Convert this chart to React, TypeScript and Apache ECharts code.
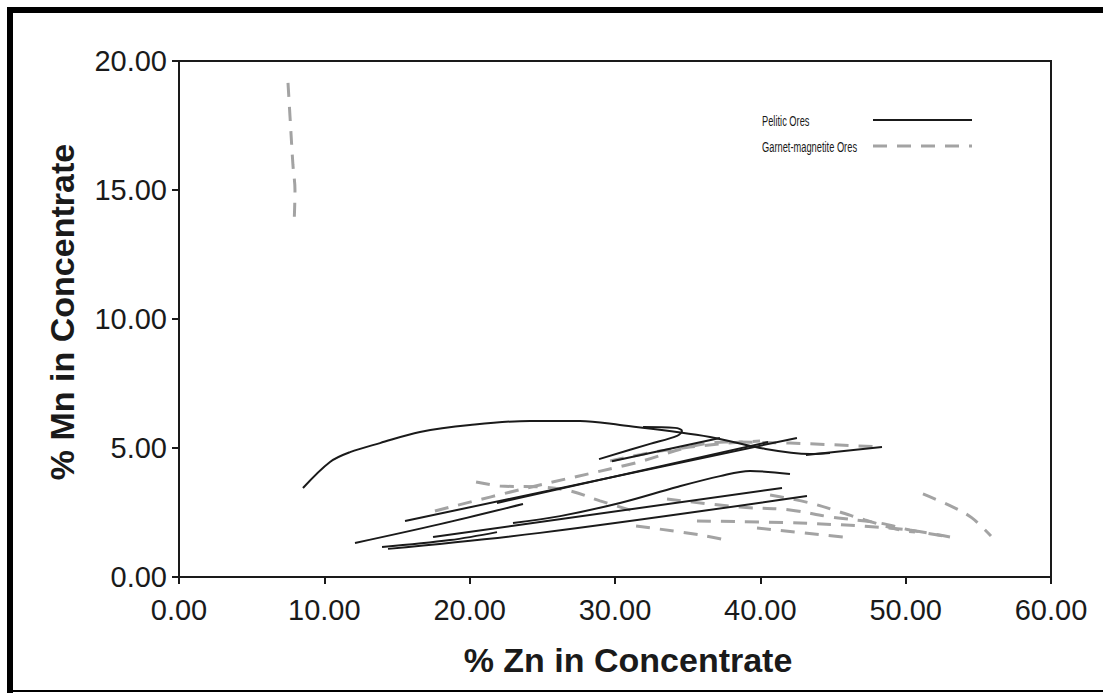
import React, { useEffect, useRef } from "react";
import * as echarts from "echarts";

// Axis ranges and ticks
const X_MIN = 0;
const X_MAX = 60;
const X_STEP = 10;
const Y_MIN = 0;
const Y_MAX = 20;
const Y_STEP = 5;

const X_TITLE = "% Zn in Concentrate";
const Y_TITLE = "% Mn in Concentrate";
const LEGEND_PELITIC = "Pelitic Ores";
const LEGEND_GARNET = "Garnet-magnetite Ores";

type Pt = [number, number];

// Pelitic ore grade curves (% Zn, % Mn)
const pelArc: Pt[] = [
  [8.53, 3.45], [10.39, 4.46], [11.77, 4.84], [13.83, 5.19], [16.58, 5.62],
  [20.02, 5.89], [24.15, 6.05], [27.59, 6.05], [30.34, 5.89], [36.54, 5.43],
  [39.98, 5.0], [43.42, 4.77], [44.79, 4.81],
];
const pelTail: Pt[] = [[43.14, 4.73], [48.37, 5.04]];
const pelHook: Pt[] = [
  [28.9, 4.57], [32.41, 5.16], [34.27, 5.47], [34.61, 5.66], [34.13, 5.78], [31.93, 5.81],
];
const pelUpperShort: Pt[] = [[29.79, 4.49], [37.22, 5.39]];
const pelLongA: Pt[] = [[15.55, 2.17], [42.52, 5.39]];
const pelLongB: Pt[] = [[21.88, 2.87], [40.53, 5.23]];
const pelMidShort: Pt[] = [[12.11, 1.32], [17.96, 2.05], [23.67, 2.83]];
const pelLowA: Pt[] = [[14.38, 1.09], [24.84, 1.71], [43.21, 3.14]];
const pelLowStub: Pt[] = [[13.97, 1.16], [18.65, 1.43], [21.88, 1.74]];
const pelLowB: Pt[] = [[17.48, 1.55], [41.49, 3.45]];
const pelWave: Pt[] = [
  [22.98, 2.09], [26.22, 2.36], [30.34, 2.87], [34.27, 3.49], [37.23, 3.91],
  [39.29, 4.11], [42.04, 3.99],
];

// Garnet-magnetite ore grade curves (% Zn, % Mn)
const garVertical: Pt[] = [[7.5, 19.15], [7.64, 17.83], [7.84, 15.97], [7.98, 15.0], [7.91, 13.57]];
const garRise: Pt[] = [
  [17.61, 2.56], [23.95, 3.45], [30.83, 4.34], [37.57, 5.23], [42.04, 5.19], [48.23, 5.04],
];
const garRiseB: Pt[] = [[29.66, 4.5], [33.1, 4.88], [37.23, 5.16], [39.98, 5.27]];
const garDip: Pt[] = [
  [20.44, 3.68], [22.09, 3.53], [24.84, 3.49], [26.9, 3.34], [28.97, 2.95], [31.72, 2.48],
];
const garFallA: Pt[] = [
  [33.58, 3.02], [38.6, 2.71], [42.04, 2.6], [44.79, 2.33], [48.23, 2.09], [50.3, 1.82], [53.05, 1.55],
];
const garLow: Pt[] = [[31.45, 1.98], [35.85, 1.63], [37.91, 1.4]];
const garFlat: Pt[] = [[35.64, 2.17], [42.73, 2.09], [49.61, 1.86], [53.05, 1.55]];
const garShort: Pt[] = [[39.77, 1.9], [45.69, 1.55]];
const garFallB: Pt[] = [
  [40.67, 3.18], [43.42, 2.87], [45.48, 2.52], [47.2, 2.21], [49.61, 1.82], [50.64, 1.74],
];
const garRight: Pt[] = [[51.19, 3.22], [53.26, 2.71], [54.56, 2.29], [55.87, 1.59]];

const pelitic: Pt[][] = [
  pelArc, pelTail, pelHook, pelUpperShort, pelLongA, pelLongB, pelMidShort,
  pelLowA, pelLowStub, pelLowB, pelWave,
];
const garnet: Pt[][] = [
  garVertical, garRise, garRiseB, garDip, garFallA, garLow, garFlat, garShort, garFallB, garRight,
];

const FONT = "'Liberation Sans', Arial, Helvetica, sans-serif";
const INK = "#1a1a1a";
const GREY = "#a3a3a3";
const DASH = [14, 10];

export default function App() {
  const ref = useRef<HTMLDivElement>(null);

  useEffect(() => {
    document.body.style.margin = "0";
    if (!ref.current) return;
    const chart = echarts.init(ref.current, undefined, { renderer: "svg" });

    const series: any[] = [];
    garnet.forEach((pts, i) => {
      series.push({
        name: LEGEND_GARNET,
        id: "g" + i,
        type: "line",
        data: pts,
        showSymbol: false,
        smooth: 0.35,
        lineStyle: { color: GREY, width: 3, type: DASH },
        z: 2,
      });
    });
    pelitic.forEach((pts, i) => {
      series.push({
        name: LEGEND_PELITIC,
        id: "p" + i,
        type: "line",
        data: pts,
        showSymbol: false,
        smooth: 0.35,
        lineStyle: { color: INK, width: 2 },
        z: 3,
      });
    });

    const fmt = (v: number) => v.toFixed(2);

    chart.setOption({
      animation: false,
      backgroundColor: "#ffffff",
      grid: {
        left: 179,
        top: 61,
        right: 52,
        bottom: 116,
        show: true,
        borderColor: INK,
        borderWidth: 2,
        backgroundColor: "transparent",
      },
      xAxis: {
        type: "value",
        min: X_MIN,
        max: X_MAX,
        interval: X_STEP,
        axisLine: { show: true, lineStyle: { color: INK, width: 2 } },
        axisTick: { show: true, inside: false, length: 7, lineStyle: { color: INK, width: 2 } },
        axisLabel: { formatter: fmt, fontSize: 29, color: INK, fontFamily: FONT, margin: 18 },
        splitLine: { show: false },
      },
      yAxis: {
        type: "value",
        min: Y_MIN,
        max: Y_MAX,
        interval: Y_STEP,
        axisLine: { show: true, lineStyle: { color: INK, width: 2 } },
        axisTick: { show: true, inside: false, length: 7, lineStyle: { color: INK, width: 2 } },
        axisLabel: { formatter: fmt, fontSize: 29, color: INK, fontFamily: FONT, margin: 12 },
        splitLine: { show: false },
      },
      series,
      graphic: [
        // frame
        { type: "rect", shape: { x: 7, y: 7, width: 6, height: 686 }, style: { fill: "#000" }, silent: true },
        { type: "rect", shape: { x: 7, y: 7, width: 1096, height: 6 }, style: { fill: "#000" }, silent: true },
        { type: "rect", shape: { x: 7, y: 690, width: 1096, height: 2 }, style: { fill: "#000" }, silent: true },
        // axis titles
        {
          type: "text",
          x: 628,
          y: 660,
          style: {
            text: X_TITLE,
            font: `bold 34px ${FONT}`,
            fill: INK,
            textAlign: "center",
            textVerticalAlign: "middle",
          },
        },
        {
          type: "text",
          x: 62,
          y: 312,
          rotation: Math.PI / 2,
          style: {
            text: Y_TITLE,
            font: `bold 34px ${FONT}`,
            fill: INK,
            textAlign: "center",
            textVerticalAlign: "middle",
          },
        },
        // key (condensed lettering)
        {
          type: "text",
          x: 762,
          y: 121,
          scaleX: 0.62,
          style: { text: LEGEND_PELITIC, font: `15px ${FONT}`, fill: INK, textVerticalAlign: "middle" },
        },
        {
          type: "line",
          shape: { x1: 873, y1: 120, x2: 972, y2: 120 },
          style: { stroke: INK, lineWidth: 2 },
        },
        {
          type: "text",
          x: 762,
          y: 147,
          scaleX: 0.62,
          style: { text: LEGEND_GARNET, font: `15px ${FONT}`, fill: INK, textVerticalAlign: "middle" },
        },
        {
          type: "line",
          shape: { x1: 873, y1: 146, x2: 972, y2: 146 },
          style: { stroke: GREY, lineWidth: 3, lineDash: [14, 10] },
        },
      ],
    });

    return () => chart.dispose();
  }, []);

  return <div ref={ref} style={{ width: 1103, height: 693 }} />;
}
